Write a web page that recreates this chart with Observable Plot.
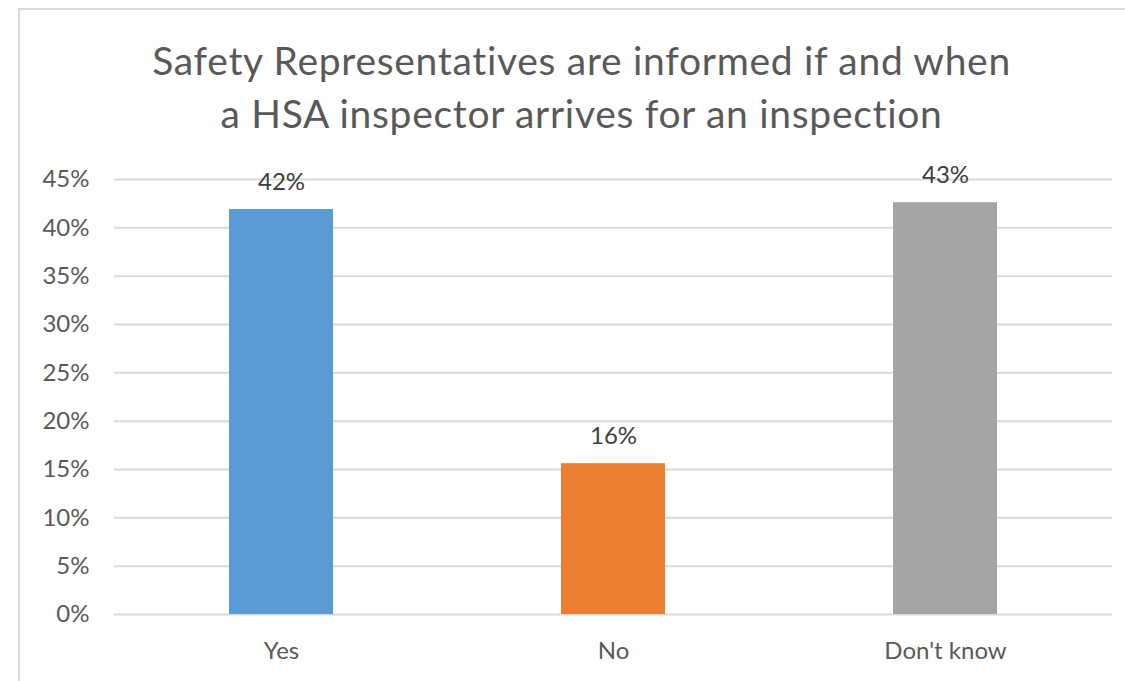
<!DOCTYPE html>
<html>
<head>
<meta charset="utf-8">
<script src="https://cdn.jsdelivr.net/npm/d3@7"></script>
<script src="https://cdn.jsdelivr.net/npm/@observablehq/plot@0.6"></script>
<style>
  html, body { margin: 0; padding: 0; background: #fff; overflow: hidden; }
  #wrap { position: relative; width: 1125px; height: 681px; overflow: hidden; background: #fff; }
  #frame { position: absolute; left: 18px; top: 8px; width: 1110px; height: 680px;
           border-left: 2px solid #d9d9d9; border-top: 2px solid #d9d9d9; }
  #title { position: absolute; left: 0; top: 34px; width: 1163px; text-align: center;
           font-family: Lato, sans-serif; font-size: 39px; letter-spacing: 0.7px; line-height: 53px; color: #595959; }
  #chart { position: absolute; left: 0; top: 150px; }
  #chart svg { background: transparent !important; }
</style>
</head>
<body>
<div id="wrap">
  <div id="frame"></div>
  <div id="title">Safety Representatives are informed if and when<br>a HSA inspector arrives for an inspection</div>
  <div id="chart"></div>
</div>
<script>
const categories = ["Yes", "No", "Don't know"];
const values = [0.419, 0.156, 0.426];
const colors = ["#5B9BD5", "#ED7D31", "#A5A5A5"];
const yTicks = [0, 0.05, 0.10, 0.15, 0.20, 0.25, 0.30, 0.35, 0.40, 0.45];

const data = categories.map((c, i) => ({category: c, value: values[i]}));

const chart = Plot.plot({
  width: 1125,
  height: 531,
  marginTop: 29,
  marginBottom: 67,
  marginLeft: 114,
  marginRight: 13,
  style: {fontFamily: "Lato, sans-serif", fontSize: "24px", color: "#595959", background: "transparent"},
  x: {domain: categories, paddingInner: 0.687, paddingOuter: 0.3435, label: null},
  y: {domain: [0, 0.45], label: null},
  color: {domain: categories, range: colors},
  marks: [
    Plot.gridY(yTicks, {stroke: "#d9d9d9", strokeOpacity: 1, strokeWidth: 2}),
    Plot.axisY(yTicks, {tickSize: 0, tickPadding: 25, tickFormat: d3.format(".0%"), label: null}),
    Plot.axisX({tickSize: 0, tickPadding: 27, label: null}),
    Plot.barY(data, {x: "category", y: "value", fill: "category"}),
    Plot.text(data, {x: "category", y: "value", text: d => d3.format(".0%")(d.value),
      lineAnchor: "middle", dy: -27, fill: "#404040", fontSize: 24})
  ]
});
document.getElementById("chart").appendChild(chart);
</script>
</body>
</html>
